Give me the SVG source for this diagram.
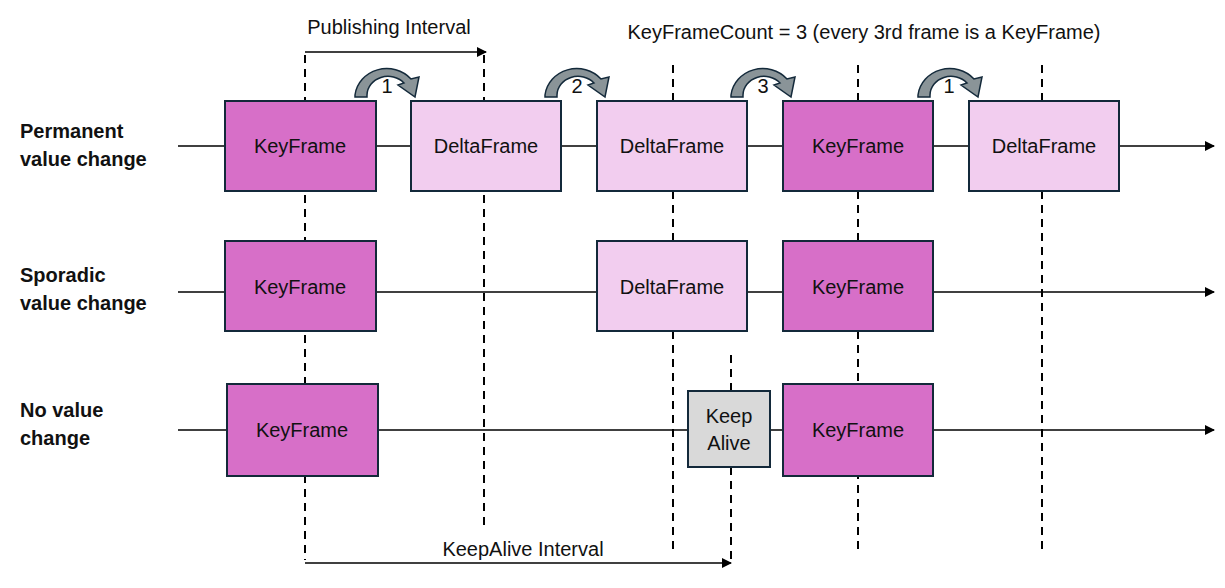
<svg xmlns="http://www.w3.org/2000/svg" width="1225" height="588" viewBox="0 0 1225 588">
<style>
text{font-family:"Liberation Sans",Arial,sans-serif;font-size:20px;fill:#111}
.lbl{font-weight:bold}
.key{fill:#d76fc8;stroke:#13293a;stroke-width:2}
.delta{fill:#f2cdef;stroke:#13293a;stroke-width:2}
.ka{fill:#d9d9d9;stroke:#13293a;stroke-width:2}
.line{stroke:#000;stroke-width:1.5;fill:none}
.dash{stroke:#000;stroke-width:2;stroke-dasharray:8,6;fill:none}
.curve{fill:#8a9498;stroke:#13293a;stroke-width:1.5}
</style>
<defs>
<marker id="ah" markerWidth="10" markerHeight="10" refX="9" refY="5" orient="auto" markerUnits="userSpaceOnUse"><path d="M0,0 L10,5 L0,10 Z" fill="#000"/></marker>
<path id="arc" d="M0,30 L0,28 A32,30 0 0 1 56,12 L64,10 L60,30 L43,18 L49,16 A21,19 0 0 0 12,28 L12,30 Z"/>
</defs>
<g id="connectors">
<line class="dash" x1="305" y1="55" x2="305" y2="560"/>
<line class="dash" x1="484" y1="55" x2="484" y2="530"/>
<line class="dash" x1="673" y1="65" x2="673" y2="550"/>
<line class="dash" x1="858" y1="65" x2="858" y2="550"/>
<line class="dash" x1="1042" y1="65" x2="1042" y2="550"/>
<line class="dash" x1="731" y1="355" x2="731" y2="565"/>
<line class="line" x1="178" y1="146" x2="1214" y2="146" marker-end="url(#ah)"/>
<line class="line" x1="178" y1="292" x2="1214" y2="292" marker-end="url(#ah)"/>
<line class="line" x1="178" y1="430" x2="1214" y2="430" marker-end="url(#ah)"/>
<line class="line" x1="305" y1="52" x2="486" y2="52" marker-end="url(#ah)"/>
<line class="line" x1="305" y1="563" x2="731" y2="563" marker-end="url(#ah)"/>
<use href="#arc" class="curve" x="355" y="67"/>
<use href="#arc" class="curve" x="545" y="67"/>
<use href="#arc" class="curve" x="731" y="67"/>
<use href="#arc" class="curve" x="918" y="67"/>
</g>
<g id="labels">
<text x="389" y="34" text-anchor="middle">Publishing Interval</text>
<text x="864" y="39" text-anchor="middle">KeyFrameCount = 3 (every 3rd frame is a KeyFrame)</text>
<text x="523" y="556" text-anchor="middle">KeepAlive Interval</text>
<text x="387" y="93" text-anchor="middle" font-size="18">1</text>
<text x="577" y="93" text-anchor="middle" font-size="18">2</text>
<text x="763" y="93" text-anchor="middle" font-size="18">3</text>
<text x="949" y="93" text-anchor="middle" font-size="18">1</text>
<text class="lbl" x="20" y="138">Permanent</text>
<text class="lbl" x="20" y="166">value change</text>
<text class="lbl" x="20" y="282">Sporadic</text>
<text class="lbl" x="20" y="310">value change</text>
<text class="lbl" x="20" y="417">No value</text>
<text class="lbl" x="20" y="445">change</text>
</g>
<g id="r1k1"><rect class="key" x="225" y="101" width="151" height="90"/><text x="300" y="153" text-anchor="middle">KeyFrame</text></g>
<g id="r1d1"><rect class="delta" x="411" y="101" width="150" height="90"/><text x="486" y="153" text-anchor="middle">DeltaFrame</text></g>
<g id="r1d2"><rect class="delta" x="597" y="101" width="150" height="90"/><text x="672" y="153" text-anchor="middle">DeltaFrame</text></g>
<g id="r1k2"><rect class="key" x="783" y="101" width="150" height="90"/><text x="858" y="153" text-anchor="middle">KeyFrame</text></g>
<g id="r1d3"><rect class="delta" x="969" y="101" width="150" height="90"/><text x="1044" y="153" text-anchor="middle">DeltaFrame</text></g>
<g id="r2k1"><rect class="key" x="225" y="241" width="151" height="90"/><text x="300" y="294" text-anchor="middle">KeyFrame</text></g>
<g id="r2d1"><rect class="delta" x="597" y="241" width="150" height="90"/><text x="672" y="294" text-anchor="middle">DeltaFrame</text></g>
<g id="r2k2"><rect class="key" x="783" y="241" width="150" height="90"/><text x="858" y="294" text-anchor="middle">KeyFrame</text></g>
<g id="r3k1"><rect class="key" x="227" y="384" width="151" height="92"/><text x="302" y="437" text-anchor="middle">KeyFrame</text></g>
<g id="r3ka"><rect class="ka" x="688" y="391" width="82" height="76"/><text x="729" y="423" text-anchor="middle">Keep</text><text x="729" y="450" text-anchor="middle">Alive</text></g>
<g id="r3k2"><rect class="key" x="783" y="384" width="150" height="92"/><text x="858" y="437" text-anchor="middle">KeyFrame</text></g>
</svg>
